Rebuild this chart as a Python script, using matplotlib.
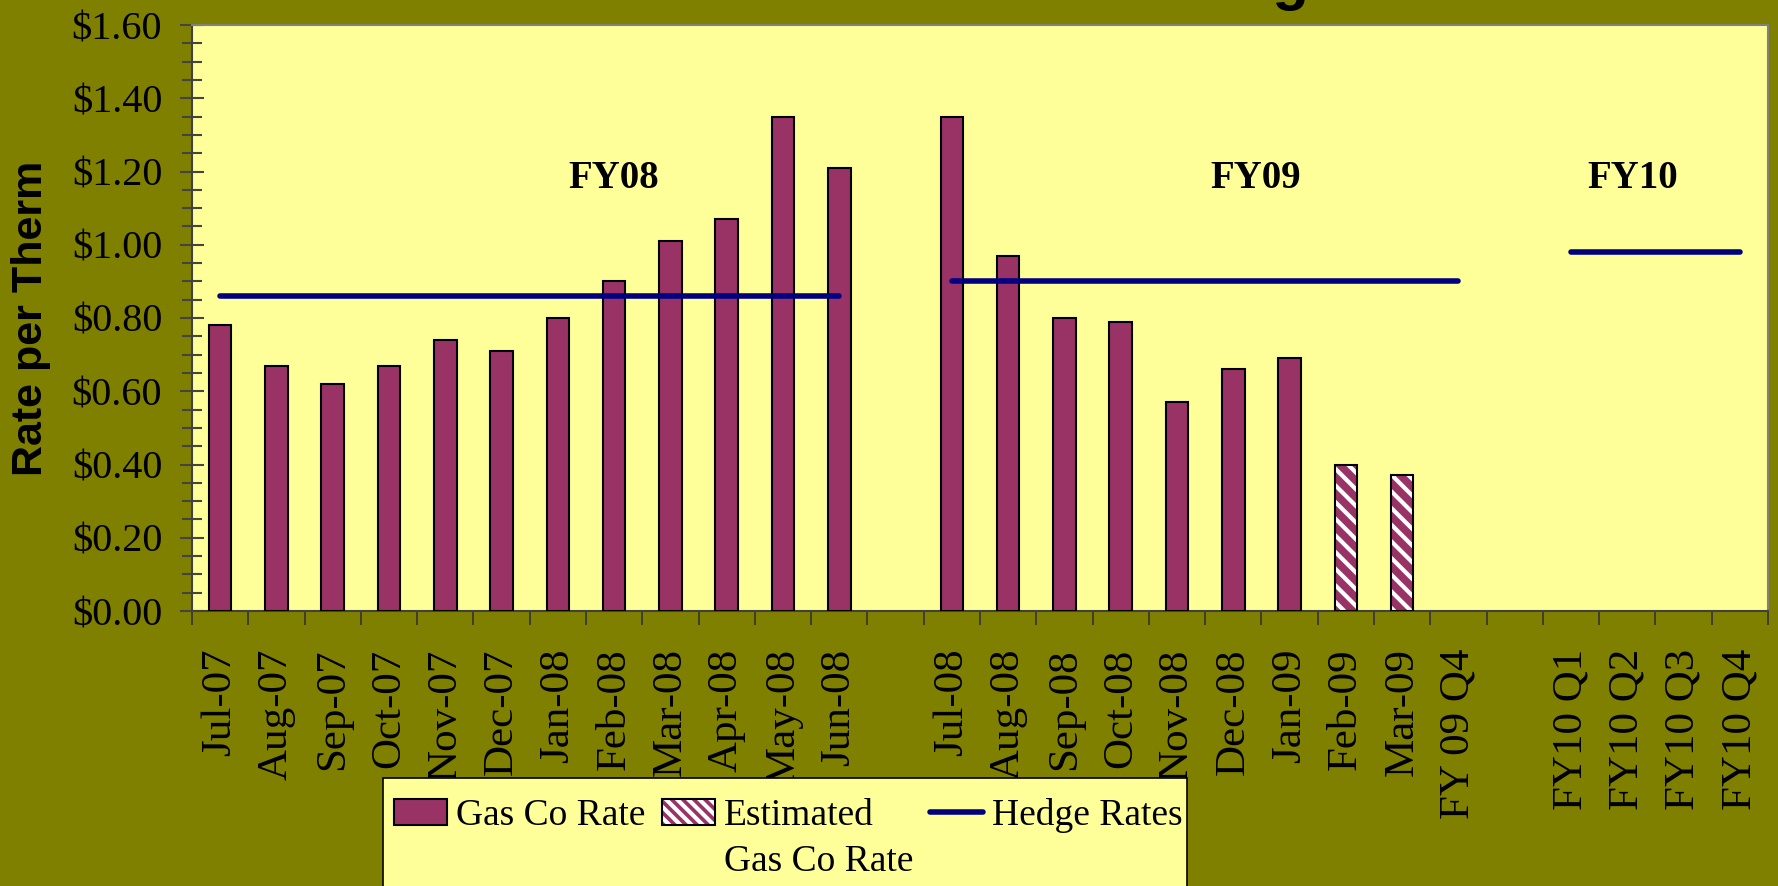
import numpy as np
import matplotlib
matplotlib.use("Agg")
import matplotlib.pyplot as plt
from matplotlib.patches import Patch, Rectangle
from matplotlib.lines import Line2D
from matplotlib.legend_handler import HandlerTuple
from matplotlib.ticker import MultipleLocator, FuncFormatter

# ---------------- data ----------------
categories = ['Jul-07', 'Aug-07', 'Sep-07', 'Oct-07', 'Nov-07', 'Dec-07',
              'Jan-08', 'Feb-08', 'Mar-08', 'Apr-08', 'May-08', 'Jun-08',
              '',
              'Jul-08', 'Aug-08', 'Sep-08', 'Oct-08', 'Nov-08', 'Dec-08',
              'Jan-09', 'Feb-09', 'Mar-09', 'FY 09 Q4',
              ' ',
              'FY10 Q1', 'FY10 Q2', 'FY10 Q3', 'FY10 Q4']

gas_co_months = ['Jul-07', 'Aug-07', 'Sep-07', 'Oct-07', 'Nov-07', 'Dec-07',
                 'Jan-08', 'Feb-08', 'Mar-08', 'Apr-08', 'May-08', 'Jun-08',
                 'Jul-08', 'Aug-08', 'Sep-08', 'Oct-08', 'Nov-08', 'Dec-08',
                 'Jan-09']
gas_co_rate = [0.78, 0.67, 0.62, 0.67, 0.74, 0.71,
               0.80, 0.90, 1.01, 1.07, 1.35, 1.21,
               1.35, 0.97, 0.80, 0.79, 0.57, 0.66,
               0.69]

estimated_months = ['Feb-09', 'Mar-09']
estimated_rate = [0.40, 0.37]

hedge_labels = ['FY08', 'FY09', 'FY10']
hedge_start = ['Jul-07', 'Jul-08', 'FY10 Q1']
hedge_end = ['Jun-08', 'FY 09 Q4', 'FY10 Q4']
hedge_rates = [0.86, 0.90, 0.98]

yticks = [0.0, 0.2, 0.4, 0.6, 0.8, 1.0, 1.2, 1.4, 1.6]

# ---------------- style ----------------
OLIVE = '#808000'
PLOT_BG = '#FFFF99'
MAROON = '#993366'
NAVY = '#000080'
SERIF = ['Liberation Serif', 'DejaVu Serif']
SANS = ['Liberation Sans', 'DejaVu Sans']
matplotlib.rcParams['hatch.linewidth'] = 3.0

W, H = 1778, 886
fig = plt.figure(figsize=(W / 100, H / 100), dpi=100, facecolor=OLIVE)
L, R, T, B = 192, 1768, 25, 611
ax = fig.add_axes([L / W, 1 - B / H, (R - L) / W, (B - T) / H])
ax.set_facecolor(PLOT_BG)

pos = {c: i for i, c in enumerate(categories)}
bw = 0.4

x_gas = [pos[m] for m in gas_co_months]
ax.bar(x_gas, gas_co_rate, width=bw, color=MAROON, edgecolor='black',
       linewidth=1.5, zorder=3)

x_est = [pos[m] for m in estimated_months]
ax.bar(x_est, estimated_rate, width=bw, color=MAROON, edgecolor='white',
       hatch='\\\\', linewidth=0, zorder=3)
ax.bar(x_est, estimated_rate, width=bw, facecolor='none', edgecolor='black',
       linewidth=1.5, zorder=4)

for lab, s, e, r in zip(hedge_labels, hedge_start, hedge_end, hedge_rates):
    ax.plot([pos[s], pos[e]], [r, r], color=NAVY, linewidth=4.0,
            solid_capstyle='round', zorder=5)

label_pos = {'FY08': 7.0, 'FY09': 18.4, 'FY10': 25.1}
for lab in hedge_labels:
    ax.text(label_pos[lab], 1.18, lab, ha='center', va='center',
            fontsize=28, fontweight='bold', family=SERIF, zorder=6)

ax.set_xlim(-0.5, len(categories) - 0.5)
ax.set_ylim(0, 1.6)

ax.set_xticks(range(len(categories)))
ax.set_xticklabels(categories, rotation=90, family=SERIF, fontsize=31)
ax.set_xticks(np.arange(-0.5, len(categories), 1.0), minor=True)
ax.tick_params(axis='x', which='major', length=0, pad=27)
ax.tick_params(axis='x', which='minor', length=10, width=1.2,
               direction='out', color='#333333')

ax.set_yticks(yticks)
ax.yaxis.set_major_formatter(FuncFormatter(lambda v, p: f'${v:.2f}'))
ax.yaxis.set_minor_locator(MultipleLocator(0.05))
ax.tick_params(axis='y', which='major', direction='inout', length=17,
               width=1.5, color='#444444', pad=13)
ax.tick_params(axis='y', which='minor', direction='inout', length=14,
               width=1.5, color='#444444')
for t in ax.get_yticklabels():
    t.set_family(SERIF)
    t.set_fontsize(29)

for s in ['left', 'bottom']:
    ax.spines[s].set_color('#404040')
    ax.spines[s].set_linewidth(1.5)
for s in ['top', 'right']:
    ax.spines[s].set_color('#808080')
    ax.spines[s].set_linewidth(1.5)

# y label
fig.text(31 / W, 1 - 318 / H, 'Rate per Therm', rotation=90, ha='center',
         va='center', fontsize=31, fontweight='bold', family=SANS)

# title (mostly cut off at the top edge, as in the original)
fig.text(1309 / W, 1 + 1 / H, 'Natural Gas Pricing', ha='right',
         va='baseline', fontsize=43, fontweight='bold', family=SANS)

# legend frame (extends past the bottom edge)
fig.patches.append(Rectangle((383 / W, -0.05), (1187 - 383) / W,
                             (1 - 778 / H) + 0.05, transform=fig.transFigure,
                             facecolor=PLOT_BG, edgecolor='black',
                             linewidth=1.2, zorder=1))

# legend content
h_gas = Patch(facecolor=MAROON, edgecolor='black', linewidth=1.5)
h_est = (Patch(facecolor=MAROON, edgecolor='white', hatch='\\\\\\', linewidth=0),
         Patch(facecolor='none', edgecolor='black', linewidth=1.5))
h_hedge = Line2D([], [], color=NAVY, linewidth=4.0, solid_capstyle='round')
h_none = Patch(facecolor='none', edgecolor='none')

handles = [h_gas, h_none, h_est, h_none, h_hedge, h_none]
labels = ['Gas Co Rate', '', 'Estimated', 'Gas Co Rate', 'Hedge Rates', '']
leg = fig.legend(handles, labels, ncol=3, loc='upper left',
                 bbox_to_anchor=(394 / W, 1 - 798 / H),
                 bbox_transform=fig.transFigure,
                 prop={'family': SERIF, 'size': 27},
                 frameon=False,
                 handlelength=1.4, handleheight=0.7, handletextpad=0.25,
                 columnspacing=0.45, labelspacing=0.3, borderpad=0,
                 borderaxespad=0,
                 handler_map={tuple: HandlerTuple(ndivide=1)})
leg.set_zorder(2)

fig.savefig('out.png', dpi=100, facecolor=OLIVE)
